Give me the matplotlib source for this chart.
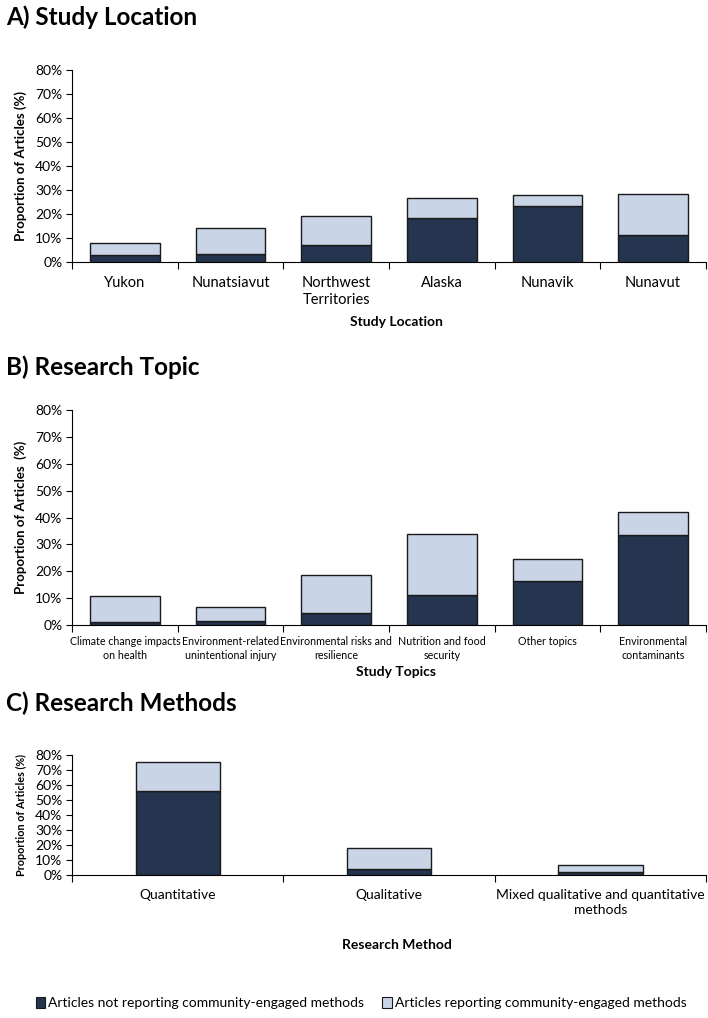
import matplotlib
matplotlib.use("Agg")
import matplotlib.pyplot as plt
import numpy as np
from matplotlib.patches import Patch

plt.rcParams['font.family'] = ['Lato', 'DejaVu Sans']

loc_labels = ["Yukon", "Nunatsiavut", "Northwest\nTerritories", "Alaska", "Nunavik", "Nunavut"]
loc_not = [3.0, 3.5, 7.0, 18.5, 23.3, 11.2]
loc_total = [8.0, 14.0, 19.0, 26.7, 27.8, 28.3]

topic_labels = ["Climate change impacts\non health", "Environment-related\nunintentional injury",
                "Environmental risks and\nresilience", "Nutrition and food\nsecurity",
                "Other topics", "Environmental\ncontaminants"]
topic_not = [1.0, 1.5, 4.6, 11.3, 16.3, 33.5]
topic_total = [10.7, 6.6, 18.5, 34.0, 24.7, 42.2]

method_labels = ["Quantitative", "Qualitative", "Mixed qualitative and quantitative\nmethods"]
method_not = [56.0, 4.0, 2.0]
method_total = [75.0, 18.0, 6.5]

legend_labels = ["Articles not reporting community-engaged methods",
                 "Articles reporting community-engaged methods"]
yticks = [0, 10, 20, 30, 40, 50, 60, 70, 80]

DARK = "#25344f"
LIGHT = "#c9d5e7"
EDGE = "#1a1a1a"

fig = plt.figure(figsize=(7.08, 10.18), dpi=100)

def panel(rect, labels, not_vals, total_vals, width, xlabel, ylabel, title, title_y,
          tick_fs, xlabel_y, ylabel_fs, pad):
    ax = fig.add_axes(rect)
    x = np.arange(len(labels))
    rep = np.array(total_vals) - np.array(not_vals)
    ax.bar(x, not_vals, width, color=DARK, edgecolor=EDGE, linewidth=1.0, zorder=3)
    ax.bar(x, rep, width, bottom=not_vals, color=LIGHT, edgecolor=EDGE, linewidth=1.0, zorder=3)
    ax.set_xlim(-0.5, len(labels) - 0.5)
    ax.set_ylim(0, 80)
    ax.set_yticks(yticks)
    ax.set_yticklabels([f"{v}%" for v in yticks], fontsize=10)
    ax.set_xticks(x)
    ax.set_xticklabels(labels, fontsize=tick_fs, linespacing=1.3)
    ax.tick_params(axis='x', length=0, pad=pad)
    ax.set_xticks(np.arange(-0.5, len(labels), 1.0), minor=True)
    ax.tick_params(axis='x', which='minor', length=5, direction='out', width=0.8)
    ax.tick_params(axis='y', length=4, direction='out', width=0.8, pad=3)
    for s in ['top', 'right']:
        ax.spines[s].set_visible(False)
    ax.spines['left'].set_linewidth(0.8)
    ax.spines['bottom'].set_linewidth(0.8)
    ax.set_ylabel(ylabel, fontsize=ylabel_fs, fontweight='bold', labelpad=6)
    fig.text(0.56, xlabel_y, xlabel, fontsize=10, fontweight='bold', ha='center', va='center')
    fig.text(0.008, title_y, title, fontsize=17.5, fontweight='bold', ha='left', va='center')
    return ax

panel([0.102, 0.7426, 0.895, 0.1886], loc_labels, loc_not, loc_total, 0.66,
      "Study Location", "Proportion of Articles (%)", "A) Study Location", 1 - 17/1018,
      10.5, 1 - 322/1018, 9.5, 10)
panel([0.102, 0.386, 0.895, 0.2112], topic_labels, topic_not, topic_total, 0.66,
      "Study Topics", "Proportion of Articles  (%)", "B) Research Topic", 1 - 367/1018,
      7.7, 1 - 672/1018, 9.5, 8)
panel([0.102, 0.1405, 0.895, 0.1179], method_labels, method_not, method_total, 0.4,
      "Research Method", "Proportion of Articles (%)", "C) Research Methods", 1 - 703/1018,
      10, 1 - 945/1018, 7.8, 10)

handles = [Patch(facecolor=DARK, edgecolor=EDGE, linewidth=0.8),
           Patch(facecolor=LIGHT, edgecolor=EDGE, linewidth=0.8)]
fig.legend(handles, legend_labels, loc='center', bbox_to_anchor=(0.51, 1 - 1003/1018), ncol=2,
           frameon=False, fontsize=10, handlelength=0.7, handleheight=0.9, handletextpad=0.2,
           columnspacing=1.3)

fig.savefig("out.png", dpi=100)
